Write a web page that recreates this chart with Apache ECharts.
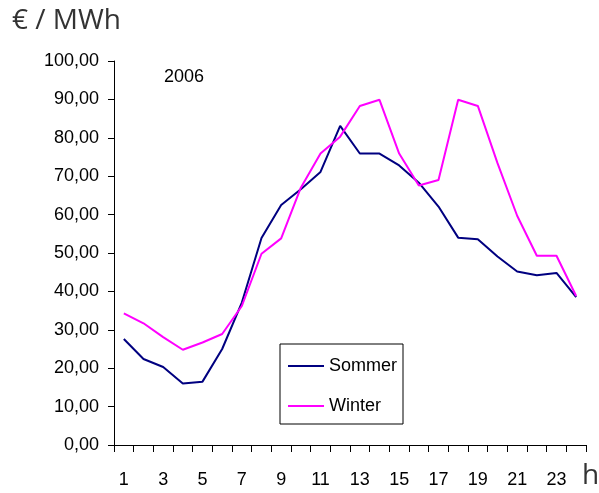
<!DOCTYPE html>
<html>
<head>
<meta charset="utf-8">
<script src="https://cdn.jsdelivr.net/npm/echarts@6/dist/echarts.min.js"></script>
<style>
html,body{margin:0;padding:0;background:#fff;}
#c{width:599px;height:493px;}
</style>
</head>
<body>
<div id="c"></div>
<script>
const hours = ['1','2','3','4','5','6','7','8','9','10','11','12','13','14','15','16','17','18','19','20','21','22','23','24'];
const sommer = [27.6,22.4,20.3,16.0,16.5,25.0,37.1,53.9,62.5,66.6,71.1,83.1,75.9,75.9,72.8,68.3,62.1,54.0,53.6,49.1,45.2,44.2,44.8,38.5];
const winter = [34.3,31.7,28.1,24.8,26.7,28.9,36.2,49.8,53.8,67.0,75.9,80.3,88.3,89.9,75.9,67.6,69.0,89.9,88.3,73.4,59.7,49.3,49.3,38.8];
const yMin = 0, yMax = 100, yStep = 10;
const unitLabel = '€ / MWh';
const yearLabel = '2006';
const xUnit = 'h';

const chart = echarts.init(document.getElementById('c'), null, {renderer:'canvas'});
const font = '"Liberation Sans", Arial, sans-serif';
chart.setOption({
  animation:false,
  backgroundColor:'#fff',
  grid:{left:114,right:13,top:61,bottom:48,containLabel:false},
  xAxis:{
    type:'category',
    data:hours,
    boundaryGap:true,
    axisLine:{lineStyle:{color:'#000',width:1}},
    axisTick:{show:true,interval:0,length:7,lineStyle:{color:'#000'}},
    axisLabel:{interval:1,margin:26,color:'#000',fontFamily:font,fontSize:18},
    splitLine:{show:false}
  },
  yAxis:{
    type:'value',
    min:yMin,max:yMax,interval:yStep,
    axisLine:{show:true,lineStyle:{color:'#000',width:1}},
    axisTick:{show:true,length:6,lineStyle:{color:'#000'}},
    axisLabel:{margin:15,color:'#000',fontFamily:font,fontSize:18,
      formatter:v=>v.toFixed(2).replace('.',',')},
    splitLine:{show:false}
  },
  legend:{
    orient:'vertical',
    left:280, top:344,
    padding:[12,6,8,8],
    borderColor:'#000', borderWidth:1,
    itemWidth:36, itemHeight:2, itemGap:20,
    icon:'rect',
    textStyle:{fontFamily:font,fontSize:18,color:'#000',lineHeight:20},
    data:['Sommer','Winter']
  },
  graphic:[
    {type:'text',left:12,top:7,style:{text:unitLabel,font:'28px "Open Sans", sans-serif',fill:'#333'}},
    {type:'text',left:164,top:68,style:{text:yearLabel,font:'18px "Liberation Sans", Arial, sans-serif',fill:'#000'}},
    {type:'text',left:582,top:462,style:{text:xUnit,font:'28px "Open Sans", sans-serif',fill:'#333'}}
  ],
  series:[
    {name:'Sommer',type:'line',data:sommer,symbol:'none',lineStyle:{color:'#000080',width:2},itemStyle:{color:'#000080'}},
    {name:'Winter',type:'line',data:winter,symbol:'none',lineStyle:{color:'#ff00ff',width:2},itemStyle:{color:'#ff00ff'}}
  ]
});
</script>
</body>
</html>
